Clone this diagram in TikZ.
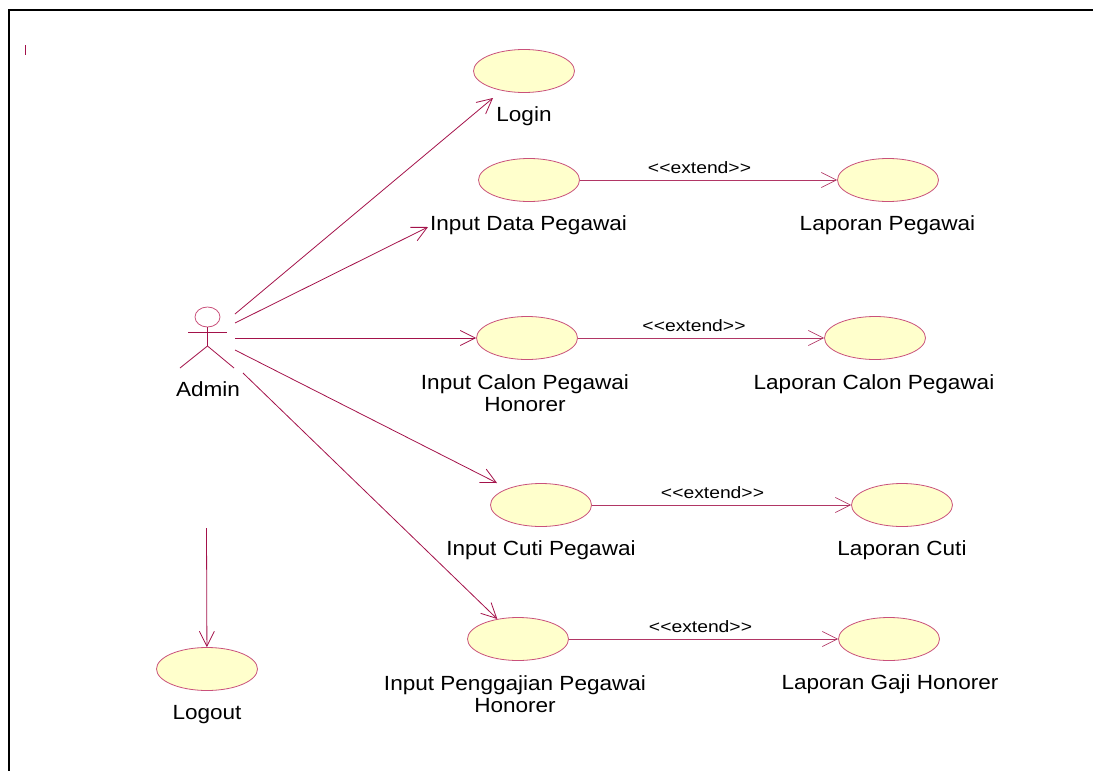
\documentclass[tikz,border=0pt]{standalone}
\usepackage{fontspec}
\setmainfont{Liberation Sans}
\newfontfamily\caselabelfont[FakeStretch=1.1]{Liberation Sans}
\newfontfamily\extendlabelfont[FakeStretch=1.17]{Liberation Sans}
\usepackage{tikz}
\usetikzlibrary{arrows.meta, positioning, shapes.geometric}
\definecolor{colorLine}{HTML}{A3124A}
\definecolor{colorCase}{HTML}{FFFFCC}
\definecolor{colorEdge}{HTML}{C9517B}
\tikzset{
  usecase/.style={ellipse, draw=colorEdge, fill=colorCase, line width=0.8pt, minimum width=101pt, minimum height=43pt, inner sep=0pt},
  caselabel/.style={font=\caselabelfont\fontsize{20.5}{22.5}\selectfont, align=center, text=black, inner sep=0pt},
  assoc/.style={->, colorLine, line width=0.8pt},
  extendline/.style={->, colorLine!85!white, line width=0.7pt},
  extendlabel/.style={font=\extendlabelfont\fontsize{16.5}{18}\selectfont, text=black, inner sep=0pt}
}
\begin{document}
\begin{tikzpicture}[x=1pt, y=-1pt, >={Straight Barb[length=15pt, width=15pt]}]
\useasboundingbox (0,0) rectangle (1093,771);
\coordinate (frameA) at (9,771);
\coordinate (frameB) at (9,10);
\coordinate (frameC) at (1093,10);
\draw [black, line width=2pt] (frameA) -- (frameB) -- (frameC);
\coordinate (tickA) at (25,45);
\coordinate (tickB) at (25,55);
\draw [colorLine, line width=0.8pt] (tickA) -- (tickB);
% actor
\node[draw=colorEdge, ellipse, line width=0.8pt, minimum width=25pt, minimum height=20pt, inner sep=0pt] (head) at (207.5,317) {};
\coordinate (armL) at (188,332);
\coordinate (armR) at (227,332);
\coordinate (hip) at (207.5,346);
\coordinate (legL) at (180,368);
\coordinate (legR) at (234,368);
\draw [colorLine, line width=0.8pt] (head.south) -- (hip);
\draw [colorLine, line width=0.8pt] (armL) -- (armR);
\draw [colorLine, line width=0.8pt] (legL) -- (hip) -- (legR);
\node[caselabel] (admin) at (208,389.5) {Admin};
% use cases
\node[usecase] (login) at (524,71) {};
\node[caselabel] (loginText) at (524,116) {Login};
\node[usecase] (data) at (529,180) {};
\node[caselabel] (dataText) at (528.5,225) {Input Data Pegawai};
\node[usecase] (lapData) at (888,180) {};
\node[caselabel] (lapDataText) at (887.5,225) {Laporan Pegawai};
\node[usecase] (calon) at (527,338) {};
\node[caselabel] (calonText) at (525,393) {Input Calon Pegawai\\Honorer};
\node[usecase] (lapCalon) at (875,338) {};
\node[caselabel] (lapCalonText) at (874,384) {Laporan Calon Pegawai};
\node[usecase] (cuti) at (541,505) {};
\node[caselabel] (cutiText) at (541,550) {Input Cuti Pegawai};
\node[usecase] (lapCuti) at (902,505) {};
\node[caselabel] (lapCutiText) at (902,550) {Laporan Cuti};
\node[usecase] (gaji) at (518,639) {};
\node[caselabel] (gajiText) at (515,694) {Input Penggajian Pegawai\\Honorer};
\node[usecase] (lapGaji) at (889,639) {};
\node[caselabel] (lapGajiText) at (890,684) {Laporan Gaji Honorer};
\node[usecase] (logout) at (207,669) {};
\node[caselabel] (logoutText) at (207,715) {Logout};
% connectors
\coordinate (fromA) at (235,314);
\coordinate (fromB) at (235,323);
\coordinate (fromC) at (235,338);
\coordinate (fromD) at (235,350);
\coordinate (fromE) at (243,373);
\coordinate (fromF) at (206.5,528);
\coordinate (toLogin) at (493,98);
\coordinate (toData) at (428,227);
\coordinate (toCuti) at (497,483);
\draw [assoc] (fromA) -- (toLogin);
\draw [assoc] (fromB) -- (toData);
\draw [assoc] (fromC) -- (calon);
\draw [assoc] (fromD) -- (toCuti);
\draw [assoc] (fromE) -- (gaji);
\draw [assoc] (fromF) -- (logout);
\draw [extendline] (data) -- node [extendlabel, above=5.5pt, xshift=-9pt] {<{}<extend>{}>} (lapData);
\draw [extendline] (calon) -- node [extendlabel, above=5.5pt, xshift=-7pt] {<{}<extend>{}>} (lapCalon);
\draw [extendline] (cuti) -- node [extendlabel, above=5.5pt, xshift=-9pt] {<{}<extend>{}>} (lapCuti);
\draw [extendline] (gaji) -- node [extendlabel, above=5.5pt, xshift=-3pt] {<{}<extend>{}>} (lapGaji);
\end{tikzpicture}
\end{document}
